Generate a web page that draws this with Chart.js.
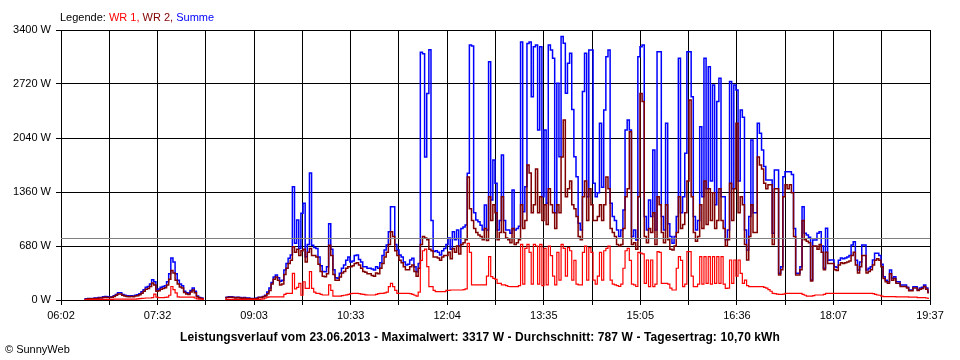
<!DOCTYPE html>
<html><head><meta charset="utf-8">
<script src="https://cdn.jsdelivr.net/npm/chart.js@4.4.1/dist/chart.umd.min.js"></script>
<style>
html,body{margin:0;padding:0;background:#fff;}
#wrap{position:relative;width:960px;height:360px;overflow:hidden;font-family:'Liberation Sans',Arial,sans-serif;}
canvas{position:absolute;left:0;top:0;}
.t{position:absolute;font-size:11px;line-height:13px;white-space:nowrap;color:#000;}
</style></head><body>
<div id="wrap">
<canvas id="c" width="960" height="360"></canvas>
<div class="t" style="left:60px;top:11px">Legende: <span style="color:#ff0000">WR 1,</span> <span style="color:#800000">WR 2,</span> <span style="color:#0000ff">Summe</span></div>
<div class="t" style="left:0;top:330px;width:960px;text-align:center;font-weight:bold;font-size:12px;line-height:14px;letter-spacing:0.1px">Leistungsverlauf vom 23.06.2013 - Maximalwert: 3317 W - Durchschnitt: 787 W - Tagesertrag: 10,70 kWh</div>
<div class="t" style="left:5px;top:343px">© SunnyWeb</div>
</div>
<script>
// time axis: minutes after midnight
const startMinute = 6*60+2;   // 06:02
const endMinute = 19*60+37;   // 19:37
const stepMinutes = 2;
const xTickLabels = ['06:02','07:32','09:03','10:33','12:04','13:35','15:05','16:36','18:07','19:37'];
const yTicks = [0,680,1360,2040,2720,3400];
const average = 787;

const summe = [null,null,null,null,null,null,null,null,null,null,null,
15,15,20,20,20,25,25,30,30,40,
45,40,35,40,55,70,90,90,70,60,
55,50,55,50,60,65,80,105,130,160,
170,200,255,230,130,140,160,170,180,230,
330,530,480,330,250,200,180,110,90,85,
120,150,110,50,30,25,20,
null,null,null,null,null,null,null,null,null,
30,35,40,40,35,30,35,30,25,30,
25,25,20,20,20,25,35,35,45,60,
100,150,220,290,315,280,235,250,378,460,
525,567,1427,714,1008,650,1092,1217,546,700,
1600,690,660,650,540,430,360,357,420,960,
640,380,280,273,336,400,440,500,540,480,
490,560,567,510,480,420,420,400,400,390,
378,420,400,470,560,630,693,860,1175,1175,
700,630,567,540,480,440,450,504,525,420,
357,460,3120,3100,1800,2600,3150,1000,610,620,
600,567,620,650,
700,780,640,860,760,880,680,900,920,945,
1595,3210,3200,1100,1008,985,940,880,1196,880,
3000,1260,1763,1470,880,1000,1826,1000,880,880,
840,1385,880,900,930,3250,1112,1427,3230,3250,
2560,3190,3210,2140,3190,1300,2140,1217,3211,3148,
3043,1100,2729,1805,3317,3232,2603,2980,3106,2400,
1805,1553,965,880,2624,3106,1301,3148,3148,1470,
1300,1350,2225,1420,2393,3064,3148,1217,1050,1000,
880,800,880,1133,2141,2267,2141,800,880,755,
3064,3190,3211,1050,880,1260,1050,1889,880,3127,
3127,1050,880,2225,960,800,714,800,1050,3043,
1100,1300,1847,3127,3127,2560,1050,880,1000,2183,
1300,3043,1400,2938,1500,2707,1200,2500,2791,1300,
1300,760,880,2750,1400,2707,2645,1500,2393,2300,
880,630,1050,2015,1100,1100,2225,2100,1889,1680,
1511,1511,1511,840,1637,1637,336,420,1553,1616,
1616,1616,1580,900,336,336,420,1175,840,819,
790,252,756,756,840,860,680,400,903,500,
504,504,420,410,500,530,520,530,540,560,
693,735,500,378,480,693,693,378,400,420,
504,588,588,560,450,294,250,231,378,273,
294,231,231,189,189,189,160,126,126,168,
168,130,150,160,189,150,105];

const wr2 = [null,null,null,null,null,null,null,null,null,null,null,
10,10,15,15,15,20,20,25,25,30,
35,30,30,35,45,60,75,75,60,50,
45,42,45,42,50,55,65,85,110,135,
145,170,215,190,110,115,135,145,155,190,
260,370,340,250,200,165,150,95,75,70,
100,125,90,40,25,20,15,
null,null,null,null,null,null,null,null,null,
25,30,35,35,30,25,30,25,20,25,
20,20,15,15,15,20,30,30,40,50,
80,120,200,260,290,250,190,200,320,400,
460,500,672,600,640,560,620,640,480,600,
650,560,560,540,450,360,300,294,330,690,
560,320,250,250,290,340,360,400,420,420,
430,460,470,440,400,360,350,330,330,310,
300,340,330,400,460,540,600,700,860,800,
620,560,500,470,420,380,380,420,440,360,
300,400,700,800,780,760,640,620,540,540,
530,500,540,560,
560,600,520,650,600,680,580,700,720,760,
1550,1150,1000,900,850,820,800,760,900,750,
1300,1000,1200,1100,760,850,1300,850,780,760,
720,900,700,720,760,1200,900,1000,1700,1600,
1100,1200,1650,1100,1300,1000,1200,950,1400,1200,
1100,900,1200,1100,1800,2267,1300,1400,1500,1200,
1150,1050,800,760,1300,1500,1000,1400,1200,1000,
1000,1050,1200,1000,1200,1550,1400,900,850,800,
700,680,700,900,1300,1400,2120,700,720,640,
1300,2600,2500,800,720,900,850,1100,700,1300,
1200,850,720,1200,760,640,630,680,850,1300,
900,950,1100,1500,2519,1300,850,740,800,1200,
900,1500,950,1400,1000,1350,900,1000,1400,1000,
900,680,760,1470,1000,1400,2225,1100,1300,1200,
700,504,800,1200,850,850,1800,1700,1650,1470,
1400,1450,1450,700,1400,1400,315,380,1300,1450,
1400,1450,1350,800,315,315,380,1000,760,740,
720,240,680,680,640,700,600,380,600,460,
460,460,380,370,440,470,460,470,480,490,
560,600,440,340,420,560,560,340,360,380,
440,500,520,500,420,270,230,210,330,250,
270,210,210,170,170,170,150,115,115,150,
150,120,135,145,170,135,90];

const wr1 = [null,null,null,null,null,null,null,null,null,null,null,
5,5,5,5,8,8,8,8,8,8,
8,8,8,8,10,10,12,12,10,10,
10,10,10,10,12,15,18,20,22,25,
25,25,30,75,35,30,30,30,32,35,
60,170,130,90,40,35,35,35,35,35,
35,35,25,15,12,10,8,
null,null,null,null,null,null,null,null,null,
8,8,8,8,8,8,8,8,8,8,
8,8,8,8,8,8,8,10,15,25,
35,40,40,40,40,40,40,40,70,84,
84,84,336,140,160,210,60,230,147,147,
357,147,100,84,84,70,63,63,63,190,
120,50,50,50,50,55,60,65,70,80,
84,84,84,80,75,70,65,63,63,63,
63,70,80,84,84,90,100,168,210,168,
120,84,84,84,84,84,84,80,70,60,
50,100,500,620,640,420,168,168,120,105,
105,105,105,105,
120,120,126,126,126,126,126,126,130,140,
714,600,190,190,190,190,190,190,190,300,
546,294,273,260,210,210,190,190,180,170,
168,168,168,168,180,700,200,650,700,600,
200,700,680,200,700,180,650,190,680,560,
300,190,600,250,700,650,300,660,620,250,
500,200,190,190,600,680,250,660,600,250,
200,300,600,250,620,650,680,250,200,190,
180,170,200,400,620,650,500,200,190,170,
600,590,580,210,504,168,504,168,200,609,
600,210,210,210,200,150,126,126,400,546,
500,168,200,609,609,300,168,168,200,546,
200,546,210,546,200,546,210,546,210,546,
200,147,150,504,210,504,300,504,336,210,
250,180,168,168,168,168,168,168,168,160,
150,130,110,84,80,75,70,70,75,84,
84,84,84,84,84,84,84,70,60,50,
50,50,55,63,63,63,63,70,84,84,
84,84,84,84,84,84,84,84,84,84,
84,84,84,84,84,84,84,84,84,84,
80,70,63,60,50,42,42,42,42,42,
42,40,40,40,40,40,40,35,35,35,
35,30,30,30,30,25,20];

const FONT = {family:"'Liberation Sans', Arial, sans-serif", size:11};
const toPoints = arr => arr.map((v,i)=>({x: startMinute + stepMinutes*i, y: v}));
const gridTicks = Array.from({length:19},(_,k)=> startMinute + k*(endMinute-startMinute)/18);

const avgLine = {
  id:'avgLine',
  afterDraw(chart){
    const c = chart.ctx, a = chart.chartArea;
    const y = Math.round(chart.scales.y.getPixelForValue(average)) + 0.5;
    c.save();
    c.strokeStyle = '#808080'; c.lineWidth = 1;
    c.beginPath(); c.moveTo(a.left, y); c.lineTo(a.right, y); c.stroke();
    c.restore();
  }
};

new Chart(document.getElementById('c'), {
  type:'line',
  data:{datasets:[
    {label:'WR 1', data:toPoints(wr1), borderColor:'#ff0000', borderWidth:1.2, order:0},
    {label:'WR 2', data:toPoints(wr2), borderColor:'#800000', borderWidth:1.5, order:1},
    {label:'Summe', data:toPoints(summe), borderColor:'#0000ff', borderWidth:1.5, order:2}
  ]},
  options:{
    responsive:false, devicePixelRatio:1, animation:false, events:[],
    spanGaps:false,
    elements:{point:{radius:0}, line:{tension:0, fill:false, stepped:'middle'}},
    layout:{padding:{left:0, right:30, top:30, bottom:0}},
    plugins:{legend:{display:false}, tooltip:{enabled:false}, title:{display:false}},
    scales:{
      x:{type:'linear', min:startMinute, max:endMinute, z:1,
        afterBuildTicks: ax => { ax.ticks = gridTicks.map(v=>({value:v})); },
        afterFit: ax => { ax.height = 60; },
        grid:{color:'#000', lineWidth:1, drawTicks:true, tickLength:5, tickColor:'#000'},
        border:{display:true, color:'#000', width:1},
        ticks:{autoSkip:false, maxRotation:0, minRotation:0, padding:4, color:'#000', font:FONT,
          callback:(v,idx)=> idx%2===0 ? xTickLabels[idx/2] : ''}
      },
      y:{min:0, max:3400, z:1,
        afterBuildTicks: ax => { ax.ticks = yTicks.map(v=>({value:v})); },
        afterFit: ax => { ax.width = 61; },
        grid:{color:'#000', lineWidth:1, drawTicks:true, tickLength:5, tickColor:'#000'},
        border:{display:true, color:'#000', width:1},
        ticks:{padding:5, color:'#000', font:FONT, callback: v => v + ' W'}
      }
    }
  },
  plugins:[avgLine]
});
</script>
</body></html>
